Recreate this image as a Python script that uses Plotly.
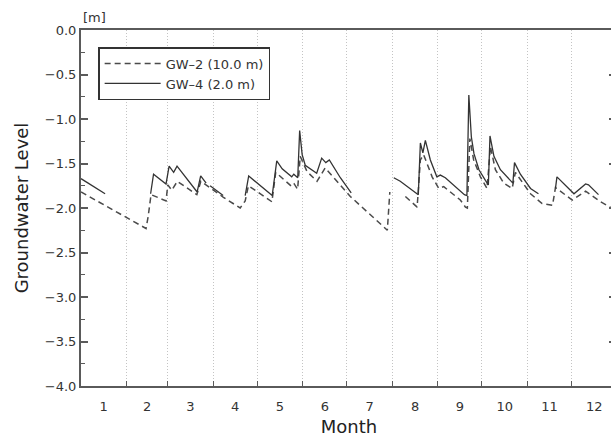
import plotly.graph_objects as go

# ---- data (day of year, groundwater level in m) ----
days_gw4 = [0.0, 16.4, None,
            47.4, 49.4, 57.9, 60.0, 63.1, 65.4, 79.1, 81.5, 85.2, None,
            87.9, 96.8, None,
            111.8, 114.2, 130.2, 133.3, 137.0, 143.5, 144.9, 147.6, 148.9, 150.6, 152.7,
            160.5, 163.9, 166.7, 169.1, 176.6, 184.0, None,
            213.0, 215.4, 217.4, 229.7, 231.1, 232.8, 234.5, 237.9, 242.3, 244.7, 248.1,
            261.1, 262.8, 264.1, 265.8, 267.6, 271.0, 275.4, 277.4, 278.5, 281.2, 285.6,
            292.4, 294.1, 295.2, 299.2, 306.1, 311.5, None,
            323.1, 324.1, 335.7, 343.6, 345.6, 352.4]
level_gw4 = [-1.67, -1.84, None,
             -1.84, -1.62, -1.73, -1.53, -1.60, -1.53, -1.82, -1.64, -1.72, None,
             -1.75, -1.86, None,
             -1.86, -1.64, -1.86, -1.47, -1.56, -1.65, -1.62, -1.66, -1.13, -1.40, -1.52,
             -1.61, -1.44, -1.49, -1.46, -1.66, -1.83, None,
             -1.66, -1.68, -1.70, -1.85, -1.27, -1.38, -1.24, -1.46, -1.65, -1.63, -1.66,
             -1.85, -1.86, -0.73, -1.20, -1.39, -1.57, -1.69, -1.74, -1.19, -1.42, -1.57,
             -1.70, -1.72, -1.49, -1.62, -1.78, -1.84, None,
             -1.78, -1.65, -1.84, -1.73, -1.74, -1.85]

days_gw2 = [0.0, 44.3, 45.7, 47.7, 57.9, 59.1, 61.8, 65.6, 78.9, 81.6, 97.0, 108.4,
            111.8, 114.0, 130.0, 132.6, 143.6, 145.2, 147.5, 149.3, 153.9, 160.7, 166.3,
            183.4, 208.6, 210.3, None,
            220.9, 228.9, 231.1, 233.3, 239.1, 243.6, 247.0, 258.3, 261.8, 263.1, 264.8,
            267.4, 272.0, 276.5, 278.8, 282.2, 287.9, 293.6, 295.8, 306.1, 314.0, 321.1,
            323.1, 334.5, 343.6, 353.8, 361.3, 365.0]
level_gw2 = [-1.82, -2.23, -2.10, -1.85, -1.92, -1.74, -1.80, -1.70, -1.85, -1.70, -1.88, -2.00,
             -1.92, -1.75, -1.93, -1.60, -1.76, -1.73, -1.79, -1.42, -1.59, -1.70, -1.55,
             -1.87, -2.25, -1.82, None,
             -1.87, -1.99, -1.46, -1.40, -1.65, -1.78, -1.76, -1.91, -1.99, -2.00, -1.22,
             -1.46, -1.65, -1.78, -1.31, -1.57, -1.72, -1.78, -1.60, -1.84, -1.95, -1.97,
             -1.77, -1.91, -1.81, -1.93, -2.00, -2.02]

month_labels = ["1", "2", "3", "4", "5", "6", "7", "8", "9", "10", "11", "12"]
month_mid = [15.5, 45, 74.5, 105, 135.5, 166, 196.5, 227.5, 258, 288.5, 319, 349.5]
month_bounds = [31, 59, 90, 120, 151, 181, 212, 243, 273, 304, 334]
y_ticks = [0.0, -0.5, -1.0, -1.5, -2.0, -2.5, -3.0, -3.5, -4.0]

FONT = "DejaVu Sans, Liberation Sans, sans-serif"
AX = "#5a5a5a"

fig = go.Figure()
fig.add_trace(go.Scatter(x=days_gw2, y=level_gw2, mode="lines", name="GW–2 (10.0 m)",
                         line=dict(color="#4a4a4a", width=1.5, dash="6px,4px"),
                         connectgaps=False))
fig.add_trace(go.Scatter(x=days_gw4, y=level_gw4, mode="lines", name="GW–4 (2.0 m)",
                         line=dict(color="#333333", width=1.3), connectgaps=False))
fig.add_trace(go.Scatter(x=[None], y=[None], yaxis="y2", showlegend=False,
                         hoverinfo="skip", mode="lines"))

fig.update_layout(
    width=618, height=437,
    margin=dict(l=81, r=1, t=30, b=51, autoexpand=False),
    paper_bgcolor="white", plot_bgcolor="white",
    font=dict(family=FONT, size=13, color="#333"),
    showlegend=True,
    legend=dict(x=0.032, y=0.952, xanchor="left", yanchor="top",
                bgcolor="white", bordercolor="#333", borderwidth=1.5,
                font=dict(size=13, color="#333"), tracegroupgap=0, itemwidth=56),
    xaxis=dict(range=[0, 365], tickmode="array", tickvals=month_mid, ticktext=month_labels,
               ticks="", showgrid=False, zeroline=False, automargin=False,
               showline=True, linecolor=AX, linewidth=2, mirror=True,
               tickfont=dict(size=13, color="#333"), ticklabelstandoff=7,
               minor=dict(tickmode="array", tickvals=month_bounds, ticks="inside", ticklen=5,
                          tickcolor=AX, tickwidth=1, showgrid=True, gridcolor="#c4c4c4",
                          griddash="1px,2px", gridwidth=1),
               title=dict(text="Month", font=dict(size=18, color="#222"), standoff=13)),
    yaxis=dict(range=[-4, 0], tickmode="array", tickvals=y_ticks, tickformat=".1f",
               ticks="inside", ticklen=7, tickwidth=1.5, tickcolor=AX,
               showgrid=False, zeroline=False, automargin=False,
               showline=True, linecolor=AX, linewidth=2,
               tickfont=dict(size=13, color="#333"),
               minor=dict(dtick=0.25, tick0=0, ticks="inside", ticklen=4, tickcolor=AX,
                          tickwidth=1, showgrid=False),
               title=dict(text="Groundwater Level", font=dict(size=18, color="#222"),
                          standoff=12)),
    yaxis2=dict(range=[-4, 0], overlaying="y", side="right", anchor="x",
                tickmode="array", tickvals=[-0.5, -1.0, -1.5, -2.0, -2.5, -3.0, -3.5],
                ticks="inside", ticklen=8, tickwidth=1.5, tickcolor=AX, automargin=False,
                showticklabels=False, showgrid=False, zeroline=False, showline=True,
                linecolor=AX, linewidth=2),
    annotations=[dict(text="[m]", xref="paper", yref="paper", x=0.0, y=1.0,
                      xanchor="left", yanchor="bottom", yshift=3, showarrow=False,
                      font=dict(size=13, color="#333"))],
)

fig.write_html("out.html", config={"displayModeBar": False},
               post_script="document.body.style.margin='0';"
                           "document.body.style.overflow='hidden';")
